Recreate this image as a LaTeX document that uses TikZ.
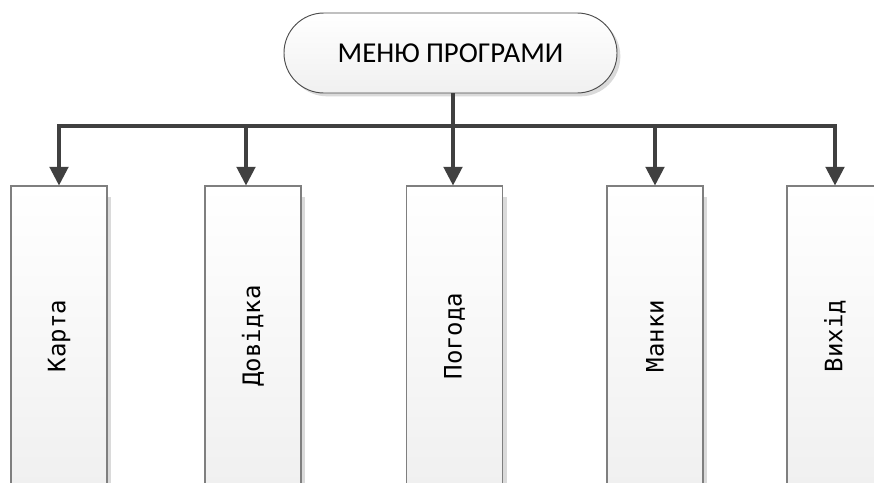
\documentclass[tikz,border=0pt]{standalone}
\usepackage{fontspec}
\setmainfont{Carlito}
\newfontfamily\monofnt{DejaVu Sans Mono}
\usetikzlibrary{arrows.meta,shadows}
\definecolor{linegray}{HTML}{404040}
\definecolor{boxborder}{HTML}{7F7F7F}
\definecolor{titleborder}{HTML}{4D4D4D}
\definecolor{shadowgray}{HTML}{DADADA}
\definecolor{boxbottom}{HTML}{F0F0F0}
\begin{document}
\begin{tikzpicture}[x=0.75pt,y=-0.75pt,
  conn/.style={draw=linegray,line width=2.3pt,line join=miter},
  arr/.style={conn,-{Triangle[length=14pt,width=14pt]}},
  menubox/.style={draw=titleborder,line width=0.7pt,rounded corners=29.9pt,
    minimum width=249.75pt,minimum height=60pt,inner sep=0pt,
    top color=white,bottom color=boxbottom,
    drop shadow={shadow xshift=2.5pt,shadow yshift=-2.5pt,fill=shadowgray,opacity=1},
    font=\fontsize{21.6}{26}\selectfont},
  itembox/.style={draw=boxborder,line width=0.8pt,
    minimum width=72pt,minimum height=225pt,inner sep=0pt,
    top color=white,bottom color=boxbottom,
    drop shadow={shadow xshift=3pt,shadow yshift=-8pt,fill=shadowgray,opacity=1}},
  itemtext/.style={rotate=90,font=\monofnt\fontsize{18}{22}\selectfont}
]
\clip (0,0) rectangle (874,482);
\fill[white] (0,0) rectangle (874,482);

\node[menubox] (menu) at (450.5,53) {МЕНЮ ПРОГРАМИ};

\node[itembox] (b1) at (59,336) {};
\node[itembox] (b2) at (253,336) {};
\node[itembox] (b3) at (454.5,336) {};
\node[itembox] (b4) at (655,336) {};
\node[itembox] (b5) at (835,336) {};

\node[itemtext] (t1) at (b1.center) {Карта};
\node[itemtext] (t2) at (b2.center) {Довідка};
\node[itemtext] (t3) at (b3.center) {Погода};
\node[itemtext] (t4) at (b4.center) {Манки};
\node[itemtext] (t5) at (b5.center) {Вихід};

\coordinate (bus) at (453,126);
\coordinate (j2) at (246,126);
\coordinate (j4) at (655,126);

\draw[conn] (menu.south -| bus) -- (bus);
\draw[arr] (bus) -| (b1.north);
\draw[arr] (bus) -| (b5.north);
\draw[arr] (j2) -- (j2 |- b2.north);
\draw[arr] (bus) -- (bus |- b3.north);
\draw[arr] (j4) -- (b4.north);
\end{tikzpicture}
\end{document}
